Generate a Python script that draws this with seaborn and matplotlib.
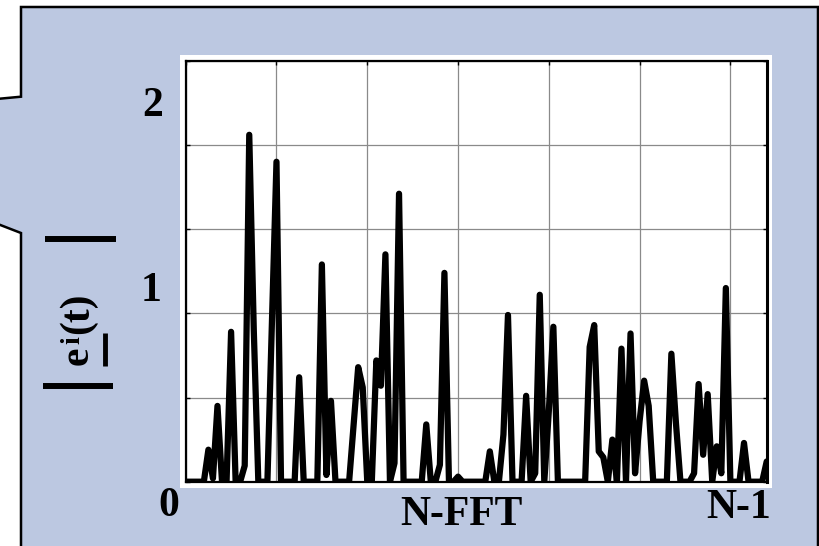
import numpy as np
import pandas as pd
import matplotlib
matplotlib.use("Agg")
import matplotlib.pyplot as plt
import seaborn as sns
from matplotlib.patches import Polygon, Rectangle
from matplotlib.lines import Line2D

# Error magnitude per FFT bin (index 0 .. N-1)
bins = list(range(129))
error_mag = [
    0, 0, 0, 0, 0, 0.19, 0.02, 0.45, 0, 0,
    0.89, 0, 0, 0.095, 2.06, 0.9, 0, 0, 0, 0.95,
    1.90, 0, 0, 0, 0, 0.62, 0, 0, 0, 0,
    1.29, 0.04, 0.48, 0, 0, 0, 0, 0.34, 0.68, 0.56,
    0, 0, 0.72, 0.57, 1.35, 0, 0.11, 1.71, 0, 0,
    0, 0, 0, 0.34, 0, 0, 0.10, 1.24, 0, 0,
    0.03, 0, 0, 0, 0, 0, 0, 0.18, 0, 0,
    0.28, 0.99, 0, 0, 0, 0.51, 0, 0.05, 1.11, 0,
    0.42, 0.92, 0, 0, 0, 0, 0, 0, 0, 0.80,
    0.93, 0.18, 0.145, 0, 0.25, 0, 0.79, 0, 0.88, 0.05,
    0.36, 0.60, 0.45, 0, 0, 0, 0, 0.76, 0.35, 0,
    0, 0, 0.05, 0.58, 0.16, 0.52, 0, 0.21, 0.05, 1.15,
    0, 0, 0, 0.23, 0, 0, 0, 0, 0.12,
]
y_tick_labels = ["1", "2"]
x_tick_labels = ["0", "N-FFT", "N-1"]

df = pd.DataFrame({"bin": bins, "mag": error_mag})

sns.set_theme(style="white")
plt.rcParams["font.family"] = ["Liberation Serif", "DejaVu Serif"]

W, H = 820, 546
fig = plt.figure(figsize=(W / 100, H / 100), dpi=100)
fig.patch.set_facecolor("white")


def fx(x):
    return x / W


def fy(y):
    return 1 - y / H


# Callout panel with a pointer on the left edge
panel_pts = [(21, 7), (818, 7), (818, 560), (21, 560), (21, 233),
             (-10, 221), (-10, 99.6), (21, 96.7)]
panel = Polygon([(fx(x), fy(y)) for x, y in panel_pts], closed=True,
                transform=fig.transFigure, facecolor="#BCC8E1",
                edgecolor="black", linewidth=1.8, zorder=0)
fig.add_artist(panel)

# White frame behind the plot area
frame = Rectangle((fx(180), fy(488)), fx(772) - fx(180), fy(55) - fy(488),
                  transform=fig.transFigure, facecolor="white",
                  edgecolor="none", zorder=0.5)
fig.add_artist(frame)

left, right, top, bottom = 185.7, 766.7, 60.7, 481.7
ax = fig.add_axes([fx(left), fy(bottom), fx(right) - fx(left), fy(top) - fy(bottom)])
ax.set_facecolor("white")
ax.set_zorder(1)

sns.lineplot(data=df, x="bin", y="mag", ax=ax, color="black",
             linewidth=4.5, estimator=None, sort=False)
for ln in ax.lines:
    ln.set_solid_joinstyle("round")
    ln.set_solid_capstyle("round")

ax.set_xlim(0, 128)
ax.set_ylim(0, 2.5)
ax.set_xticks(np.arange(0, 129, 20))
ax.set_yticks(np.arange(0, 2.51, 0.5))
ax.grid(True, color="#8a8a8a", linewidth=0.9)
ax.set_axisbelow(True)
ax.tick_params(axis="both", which="both", direction="in", length=3, width=1,
               color="black", top=True, right=True, bottom=False, left=True,
               labelbottom=False, labelleft=False)
ax.set_xlabel("")
ax.set_ylabel("")
for side, sp in ax.spines.items():
    sp.set_visible(True)
    sp.set_color("black")
    sp.set_linewidth(1.6)
ax.spines["right"].set_linewidth(2.2)

txt = dict(ha="center", va="center", fontsize=30, fontweight="bold",
           color="black", transform=fig.transFigure)
fig.text(fx(153), fy(106), y_tick_labels[1], **txt)
fig.text(fx(151), fy(291), y_tick_labels[0], **txt)
fig.text(fx(169), fy(506), x_tick_labels[0], **txt)
fig.text(fx(461), fy(515), x_tick_labels[1], **txt)
fig.text(fx(739), fy(508), x_tick_labels[2], **txt)

# Rotated axis label |e^i(t)| with underlined e
fig.text(fx(78), fy(356), "e", rotation=90, **txt)
fig.text(fx(73), fy(340), "i", rotation=90,
         **{**txt, "fontsize": 20})
fig.text(fx(78), fy(313), "(t)", rotation=90, **txt)
for x0, x1, y0, y1, lw in [(105, 105, 333, 366, 3.5),
                           (45, 116, 239, 239, 4.3),
                           (43, 113, 386, 386, 4.3)]:
    fig.add_artist(Line2D([fx(x0), fx(x1)], [fy(y0), fy(y1)],
                          transform=fig.transFigure, color="black",
                          linewidth=lw, solid_capstyle="butt"))

fig.savefig("out.png", dpi=100)
